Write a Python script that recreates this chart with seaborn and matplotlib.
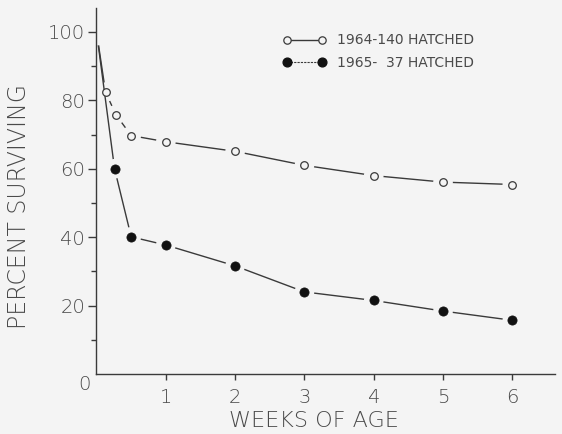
import matplotlib
matplotlib.use("Agg")
import matplotlib.pyplot as plt
from matplotlib.lines import Line2D
import seaborn as sns
import pandas as pd

# ---- data ----
weeks_1964 = [0, 0.13, 0.28, 0.5, 1, 2, 3, 4, 5, 6]
surv_1964 = [100, 82.4, 75.8, 69.7, 67.9, 65.1, 61.0, 58.0, 56.1, 55.4]
weeks_1965 = [0, 0.26, 0.5, 1, 2, 3, 4, 5, 6]
surv_1965 = [100, 60.0, 40.1, 37.7, 31.6, 24.0, 21.5, 18.4, 15.7]
label_1964 = "1964-140 HATCHED"
label_1965 = "1965-  37 HATCHED"
x_ticks = [1, 2, 3, 4, 5, 6]
y_ticks = [20, 40, 60, 80, 100]
y_minor = [10, 30, 50, 70, 90]
x_label = "WEEKS OF AGE"
y_label = "PERCENT SURVIVING"

BG = "#f4f4f4"
INK = "#3a3a3a"
TXT = "#4a4a4a"

sns.set_theme(style="white")
plt.rcParams["font.family"] = ["DejaVu Sans"]

df64 = pd.DataFrame({"week": weeks_1964, "pct": surv_1964})
df65 = pd.DataFrame({"week": weeks_1965, "pct": surv_1965})

fig = plt.figure(figsize=(5.62, 4.34), dpi=100, facecolor=BG)
ax = fig.add_axes([95.5 / 562, 1 - 374 / 434, 459.8 / 562, 366 / 434])
ax.set_facecolor(BG)
ax.set_xlim(-0.015, 6.62)
ax.set_ylim(0, 107)

# lines
sns.lineplot(data=df64, x="week", y="pct", ax=ax, color=INK, lw=1.0,
             zorder=1, sort=False)
# halos around own markers (gaps in line)
sns.scatterplot(data=df64.iloc[1:], x="week", y="pct", ax=ax, s=200,
                color=BG, edgecolor="none", zorder=2, legend=False)
sns.lineplot(data=df65, x="week", y="pct", ax=ax, color=INK, lw=1.0,
             zorder=3, sort=False)
sns.scatterplot(data=df65.iloc[1:], x="week", y="pct", ax=ax, s=200,
                color=BG, edgecolor="none", zorder=4, legend=False)
# start-point gap (hatch point, no marker)
start = pd.DataFrame({"week": [weeks_1964[0]], "pct": [surv_1964[0]]})
sns.scatterplot(data=start, x="week", y="pct", ax=ax, s=380,
                color=BG, edgecolor="none", zorder=4, legend=False)
# markers
sns.scatterplot(data=df64.iloc[1:], x="week", y="pct", ax=ax, s=30,
                color=BG, edgecolor=INK, linewidth=0.9, zorder=6, legend=False)
sns.scatterplot(data=df65.iloc[1:], x="week", y="pct", ax=ax, s=44,
                color="#111111", edgecolor="#111111", linewidth=0.5, zorder=6,
                legend=False)

# axes styling
for side in ("top", "right"):
    ax.spines[side].set_visible(False)
for side in ("left", "bottom"):
    ax.spines[side].set_color(INK)
    ax.spines[side].set_linewidth(1.0)
    ax.spines[side].set_zorder(8)

ax.set_xticks(x_ticks)
ax.set_xticklabels([str(t) for t in x_ticks])
ax.set_yticks(y_ticks)
ax.set_yticklabels([str(t) for t in y_ticks])
ax.set_yticks(y_minor, minor=True)
ax.tick_params(axis="x", which="major", direction="out", length=4, width=1.0,
               color=INK, pad=6, labelsize=14, labelcolor=TXT, bottom=True)
ax.tick_params(axis="y", which="major", direction="out", length=6, width=1.0,
               color=INK, pad=1.5, labelsize=14, labelcolor=TXT, left=True)
ax.tick_params(axis="y", which="minor", direction="out", length=3.6, width=1.0,
               color=INK, left=True)
for lab in ax.get_xticklabels() + ax.get_yticklabels():
    lab.set_fontweight(200)

ax.annotate("0", xy=(0, 0), xycoords="axes fraction", xytext=(-8.3, -7.9),
            textcoords="offset points", ha="center", va="center",
            fontsize=14, color=TXT, fontweight=200)

ax.set_xlabel(x_label, fontsize=16, color=TXT, fontweight=200)
ax.set_ylabel(y_label, fontsize=17, color=TXT, fontweight=200)
ax.xaxis.set_label_coords(0.475, -0.102)
ax.yaxis.set_label_coords(-0.140, 0.459)

# legend
h64 = Line2D([], [], color=INK, lw=1.0, marker="o", markersize=5.3,
             markerfacecolor=BG, markeredgecolor=INK, markeredgewidth=0.9)
h65 = Line2D([], [], color=INK, lw=0.8, ls=(0, (2, 1)), marker="o",
             markersize=6.3, markerfacecolor="#111111", markeredgecolor="#111111")
leg = ax.legend([h64, h65], [label_1964, label_1965], loc="upper left",
                bbox_to_anchor=(282.5 / 562, 1 - 33.5 / 434),
                bbox_transform=fig.transFigure, frameon=False, numpoints=2,
                handlelength=3.12, handletextpad=0.8, labelspacing=0.62,
                borderpad=0, borderaxespad=0, fontsize=10)
for t in leg.get_texts():
    t.set_color(TXT)

fig.savefig("out.png", dpi=100, facecolor=BG)
